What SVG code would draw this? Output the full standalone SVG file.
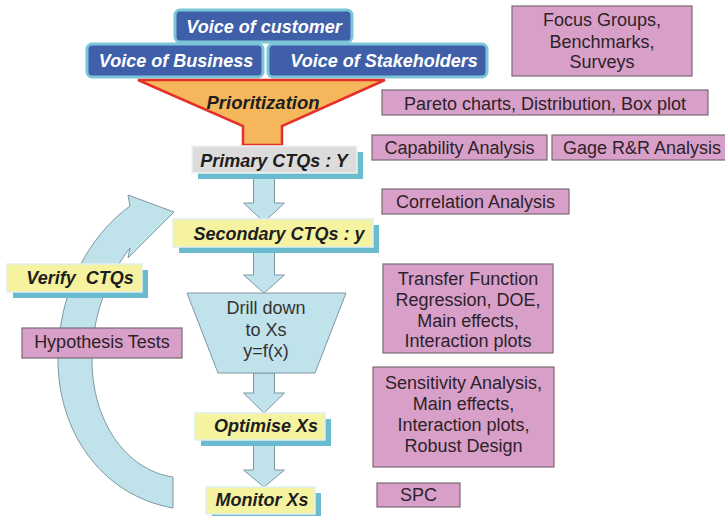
<svg xmlns="http://www.w3.org/2000/svg" width="725" height="516" viewBox="0 0 725 516">
<defs>
<style>
.voice{fill:#3f5fa9;stroke:#7cc6da;stroke-width:3}
.vt{font-family:"Liberation Sans",Arial,sans-serif;font-weight:bold;font-style:italic;font-size:18px;fill:#ffffff;text-anchor:middle}
.bt{font-family:"Liberation Sans",Arial,sans-serif;font-weight:bold;font-style:italic;font-size:18px;fill:#1e1e1e;text-anchor:middle}
.pink{fill:#d8a0c8;stroke:#7a6a76;stroke-width:1.2}
.pt{font-family:"Liberation Sans",Arial,sans-serif;font-size:18px;fill:#2e2229;text-anchor:middle}
.yel{fill:#f6f3a0;stroke:#dff0ee;stroke-width:1.5}
.gray{fill:#dcdcdc;stroke:#eef4f2;stroke-width:1.5}
.shadow{fill:#6abbd0}
.blk{fill:#c0e2eb;stroke:#7f98a2;stroke-width:1}
</style>
</defs>
<rect width="725" height="516" fill="#ffffff"/>

<g id="connectors">
<path class="blk" d="M173,508 C100,495 58,430 58,360 C58,290 90,235 130,206 L128,195 L174,212 L128,258 L130,248 C105,280 92,320 92,360 C92,420 125,470 173,477 Z"/>
<path class="blk" d="M253.5,173 L274.5,173 L274.5,203 L284.5,203 L264,222 L243.5,203 L253.5,203 Z"/>
<path class="blk" d="M253.5,247 L274.5,247 L274.5,275 L284.5,275 L264,293 L243.5,275 L253.5,275 Z"/>
<path class="blk" d="M253.5,373 L274.5,373 L274.5,393 L284.5,393 L264,413 L243.5,393 L253.5,393 Z"/>
<path class="blk" d="M253.5,440 L274.5,440 L274.5,470 L284.5,470 L264,487 L243.5,470 L253.5,470 Z"/>
</g>

<g id="voice-customer">
<rect class="voice" x="175" y="10" width="177" height="32" rx="5"/>
<text class="vt" x="264" y="33">Voice of customer</text>
</g>
<g id="voice-business">
<rect class="voice" x="87" y="44" width="176" height="33" rx="5"/>
<text class="vt" x="176" y="67">Voice of Business</text>
</g>
<g id="voice-stakeholders">
<rect class="voice" x="268" y="44" width="219" height="33" rx="5"/>
<text class="vt" x="384" y="67">Voice of Stakeholders</text>
</g>

<g id="prioritization">
<path d="M138,80 L385,80 L282,126 L282,145 L243,145 L243,126 Z" fill="#f5b65c" stroke="#e5302a" stroke-width="2.5" stroke-linejoin="miter"/>
<text class="bt" x="263" y="109" style="font-size:18.5px">Prioritization</text>
</g>

<g id="primary-ctqs">
<rect class="shadow" x="198" y="152" width="165" height="27"/>
<rect class="gray" x="192" y="146" width="165" height="27"/>
<text class="bt" x="274" y="167">Primary CTQs : Y</text>
</g>

<g id="secondary-ctqs">
<rect class="shadow" x="179" y="225" width="200" height="28"/>
<rect class="yel" x="173" y="219" width="200" height="28"/>
<text class="bt" x="279" y="240">Secondary CTQs : y</text>
</g>

<g id="drill-down">
<path class="blk" d="M187,293 L346,293 L315,373 L218,373 Z"/>
<text class="pt" x="266" y="314" style="fill:#333333">Drill down</text>
<text class="pt" x="266" y="336" style="fill:#333333">to Xs</text>
<text class="pt" x="266" y="357" style="fill:#333333">y=f(x)</text>
</g>

<g id="optimise-xs">
<rect class="shadow" x="201" y="419" width="130" height="27"/>
<rect class="yel" x="195" y="413" width="130" height="27"/>
<text class="bt" x="266" y="432">Optimise Xs</text>
</g>

<g id="monitor-xs">
<rect class="shadow" x="212" y="493" width="109" height="27"/>
<rect class="yel" x="206" y="487" width="109" height="27"/>
<text class="bt" x="262" y="506">Monitor Xs</text>
</g>

<g id="verify-ctqs">
<rect class="shadow" x="13" y="270" width="135" height="28"/>
<rect class="yel" x="7" y="264" width="135" height="28"/>
<text class="bt" x="80" y="284" xml:space="preserve">Verify  CTQs</text>
</g>

<g id="hypothesis-tests">
<rect class="pink" x="22" y="328" width="160" height="30"/>
<text class="pt" x="102" y="348">Hypothesis Tests</text>
</g>

<g id="focus-groups">
<rect class="pink" x="512" y="6" width="180" height="70"/>
<text class="pt" x="602" y="26">Focus Groups,</text>
<text class="pt" x="602" y="48">Benchmarks,</text>
<text class="pt" x="602" y="68">Surveys</text>
</g>

<g id="pareto">
<rect class="pink" x="382" y="90" width="326" height="25"/>
<text class="pt" x="545" y="110">Pareto charts, Distribution, Box plot</text>
</g>

<g id="capability">
<rect class="pink" x="372" y="135" width="175" height="25"/>
<text class="pt" x="459.5" y="154">Capability Analysis</text>
</g>

<g id="gage">
<rect class="pink" x="552" y="135" width="176" height="25"/>
<text class="pt" x="642" y="154">Gage R&amp;R Analysis</text>
</g>

<g id="correlation">
<rect class="pink" x="382" y="189" width="187" height="25"/>
<text class="pt" x="475.5" y="208">Correlation Analysis</text>
</g>

<g id="transfer-function">
<rect class="pink" x="383" y="264" width="170" height="89"/>
<text class="pt" x="468" y="285">Transfer Function</text>
<text class="pt" x="468" y="306">Regression, DOE,</text>
<text class="pt" x="468" y="327">Main effects,</text>
<text class="pt" x="468" y="347">Interaction plots</text>
</g>

<g id="sensitivity">
<rect class="pink" x="373" y="367" width="181" height="100"/>
<text class="pt" x="463.5" y="389">Sensitivity Analysis,</text>
<text class="pt" x="463.5" y="410">Main effects,</text>
<text class="pt" x="463.5" y="431">Interaction plots,</text>
<text class="pt" x="463.5" y="452">Robust Design</text>
</g>

<g id="spc">
<rect class="pink" x="377" y="483" width="83" height="24"/>
<text class="pt" x="418.5" y="501">SPC</text>
</g>
</svg>
